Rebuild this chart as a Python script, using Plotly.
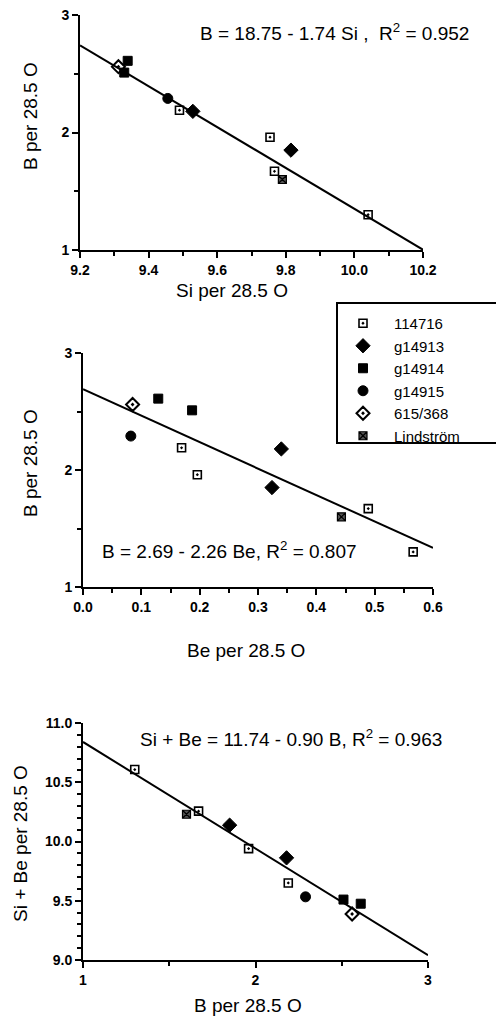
import plotly.graph_objects as go

# ---------------- data ----------------
samples = ["114716", "g14913", "g14914", "g14915", "615/368", "Lindström"]

si = {
    "114716": [9.49, 9.754, 9.767, 10.04],
    "g14913": [9.815, 9.529],
    "g14914": [9.339, 9.329],
    "g14915": [9.456],
    "615/368": [9.312],
    "Lindström": [9.79],
}
be = {
    "114716": [0.169, 0.196, 0.489, 0.566],
    "g14913": [0.324, 0.340],
    "g14914": [0.129, 0.187],
    "g14915": [0.082],
    "615/368": [0.085],
    "Lindström": [0.443],
}
b = {
    "114716": [2.19, 1.96, 1.67, 1.30],
    "g14913": [1.85, 2.18],
    "g14914": [2.61, 2.51],
    "g14915": [2.29],
    "615/368": [2.56],
    "Lindström": [1.60],
}
sibe = {
    "114716": [9.65, 9.94, 10.256, 10.607],
    "g14913": [10.138, 9.862],
    "g14914": [9.475, 9.51],
    "g14915": [9.533],
    "615/368": [9.388],
    "Lindström": [10.23],
}

# regression coefficients (intercept, slope) and fit ranges
fit_top = (18.75, -1.74)
fit_mid = (2.69, -2.26)
fit_bot = (11.74, -0.90)
range_top = [9.2, 10.2]
range_mid = [0.0, 0.6]
range_bot = [1.0, 3.0]

eq_top = "B = 18.75 - 1.74 Si ,&nbsp; R<sup>2</sup> = 0.952"
eq_mid = "B = 2.69 - 2.26 Be, R<sup>2</sup> = 0.807"
eq_bot = "Si + Be = 11.74 - 0.90 B, R<sup>2</sup> = 0.963"

# ---------------- styling ----------------
W, H = 504, 1016
OFF = 8  # page body margin: the figure is drawn 8px right/down in the window
FONT = "Liberation Sans, Arial, sans-serif"

styles = {
    "114716": dict(symbol="square-open-dot", size=8, line=dict(color="black", width=1.6), color="black"),
    "g14913": dict(symbol="diamond", size=11, color="black", line=dict(color="black", width=1)),
    "g14914": dict(symbol="square", size=9, color="black", line=dict(color="black", width=1)),
    "g14915": dict(symbol="circle", size=10, color="black", line=dict(color="black", width=1)),
    "615/368": dict(symbol="diamond-open-dot", size=10, color="black", line=dict(color="black", width=2)),
    "Lindström": dict(symbol="square-x", size=8, color="#555555", line=dict(color="black", width=1.2)),
}


def px(x):
    return (x - OFF) / W


def py(y):
    return 1 - (y - OFF) / H


fig = go.Figure()

panels = [
    ("x", "y", si, b),
    ("x2", "y2", be, b),
    ("x3", "y3", b, sibe),
]

for k, (xa, ya, xs, ys) in enumerate(panels):
    for s in samples:
        fig.add_trace(go.Scatter(
            x=xs[s], y=ys[s], mode="markers", name=s,
            marker=styles[s], xaxis=xa, yaxis=ya,
            showlegend=(k == 1),
        ))

for xa, ya, fit, rng in [("x", "y", fit_top, range_top),
                         ("x2", "y2", fit_mid, range_mid),
                         ("x3", "y3", fit_bot, range_bot)]:
    fig.add_trace(go.Scatter(
        x=rng, y=[fit[0] + fit[1] * v for v in rng], mode="lines",
        line=dict(color="black", width=2), xaxis=xa, yaxis=ya,
        showlegend=False, hoverinfo="skip",
    ))

minor_common = dict(ticks="outside", ticklen=4, tickwidth=2, tickcolor="black")
axis_common = dict(
    showline=True, linecolor="black", linewidth=2, mirror=False,
    ticks="outside", ticklen=6, tickwidth=2, tickcolor="black",
    showgrid=False, zeroline=False, ticklabeloverflow="allow",
    tickfont=dict(family=FONT, size=14, color="black", weight="bold"),
)

fig.update_layout(
    width=W, height=H,
    margin=dict(l=0, r=0, t=0, b=0, autoexpand=False),
    paper_bgcolor="white", plot_bgcolor="white",
    font=dict(family=FONT, color="black"),
    xaxis=dict(domain=[px(80), px(423)], range=range_top, dtick=0.2, tickformat=".1f",
               anchor="y", minor=dict(dtick=0.1, **minor_common), **axis_common),
    yaxis=dict(domain=[py(250), py(15)], range=[1, 3], dtick=1, anchor="x",
               minor=dict(dtick=0.5, **minor_common), **axis_common),
    xaxis2=dict(domain=[px(83), px(433)], range=range_mid, dtick=0.1, tickformat=".1f",
                anchor="y2", minor=dict(dtick=0.05, **minor_common), **axis_common),
    yaxis2=dict(domain=[py(587), py(353)], range=[1, 3], dtick=1, anchor="x2",
                minor=dict(dtick=0.5, **minor_common), **axis_common),
    xaxis3=dict(domain=[px(83), px(428)], range=range_bot, dtick=1, anchor="y3",
                minor=dict(dtick=0.5, **minor_common), **axis_common),
    yaxis3=dict(domain=[py(960), py(723)], range=[9, 11], dtick=0.5, tickformat=".1f", anchor="x3",
                minor=dict(dtick=0.1, **minor_common), **axis_common),
    legend=dict(
        x=px(332), y=py(307), xanchor="left", yanchor="top",
        borderwidth=0, bgcolor="rgba(0,0,0,0)",
        font=dict(family=FONT, size=15, color="black"),
        itemwidth=52,
    ),
    shapes=[dict(type="rect", xref="paper", yref="paper",
                 x0=px(337), x1=px(503), y0=py(443), y1=py(303),
                 line=dict(color="black", width=2), fillcolor="rgba(0,0,0,0)", layer="below")],
)

ann = []
title_font = dict(family=FONT, size=19, color="black")
eq_font = dict(family=FONT, size=19, color="black")
for text, x, y, ang in [
    ("Si per 28.5 O", 232, 291, 0),
    ("Be per 28.5 O", 246, 650, 0),
    ("B per 28.5 O", 248, 1005, 0),
    ("B per 28.5 O", 30, 116, -90),
    ("B per 28.5 O", 30, 463, -90),
    ("Si + Be per 28.5 O", 20, 844, -90),
]:
    ann.append(dict(text=text, x=px(x), y=py(y), xref="paper", yref="paper",
                    showarrow=False, textangle=ang, font=title_font,
                    xanchor="center", yanchor="middle"))
for text, x, y in [(eq_top, 334, 32), (eq_mid, 229, 550), (eq_bot, 291, 738)]:
    ann.append(dict(text=text, x=px(x), y=py(y), xref="paper", yref="paper",
                    showarrow=False, font=eq_font, xanchor="center", yanchor="middle"))
fig.update_layout(annotations=ann)

fig.write_html("out.html")
